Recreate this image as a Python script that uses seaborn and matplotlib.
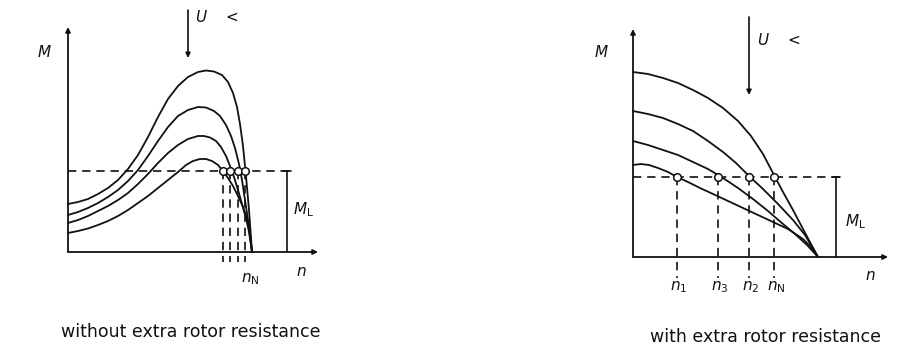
import numpy as np
import pandas as pd
import matplotlib
matplotlib.use("Agg")
import matplotlib.pyplot as plt
import seaborn as sns

sns.set_theme(style="white")
plt.rcParams["font.family"] = ["DejaVu Sans"]
plt.rcParams["mathtext.fontset"] = "dejavusans"

INK = "#111111"

# ---- torque-speed curves, arbitrary units (n = speed, M = torque) ----
# without extra rotor resistance: supply voltage lowered from top curve to bottom curve
left_curves = {
    "U1": ([0, 10, 20, 30, 40, 50, 60, 70, 80, 90, 100, 110, 120, 130, 138, 146, 154, 160, 165, 169, 172, 175, 178, 181, 184],
           [48, 50, 53, 58, 64, 72, 83, 97, 115, 135, 153, 166, 175, 180, 181.5, 180.5, 177, 170, 159, 145, 128, 106, 76, 42, 0]),
    "U2": ([0, 10, 20, 30, 40, 50, 60, 70, 80, 90, 100, 110, 120, 130, 138, 146, 152, 158, 163, 167, 171, 174, 177, 180, 184],
           [37, 40, 44, 49, 55, 62, 71, 82, 96, 111, 125, 136, 142, 145, 144.5, 141, 136, 127, 116, 104, 88, 72, 52, 32, 0]),
    "U3": ([0, 10, 20, 30, 40, 50, 60, 70, 80, 90, 100, 110, 120, 130, 136, 142, 148, 153, 158, 162, 166, 170, 174, 178, 181, 184],
           [29, 32, 36, 41, 46, 52, 59, 68, 78, 89, 99, 107, 113, 116, 116, 114.5, 111, 105, 96, 86, 75, 62, 48, 34, 20, 0]),
    "U4": ([0, 10, 20, 30, 40, 50, 60, 70, 80, 90, 100, 110, 118, 125, 132, 138, 144, 150, 155, 160, 165, 170, 175, 179, 182, 184],
           [19, 21, 23.5, 27, 31, 36, 42, 49, 56, 64, 72, 80, 87, 91, 93, 93, 91, 87, 81, 74, 66, 56, 45, 33, 20, 0]),
}
left_load = 81
left_op_n = [155, 162, 170, 177]

# with extra rotor resistance
right_curves = {
    "U1": ([0, 15, 30, 45, 60, 75, 90, 105, 118, 130, 141, 150, 160, 170, 178, 185],
           [185, 183, 179, 174, 167, 159, 149, 136, 121, 103, 82, 65, 47, 28, 13, 0]),
    "U2": ([0, 15, 30, 45, 60, 75, 90, 103, 116, 130, 145, 160, 172, 185],
           [146, 143, 139, 133, 126, 116, 105, 94, 81, 68, 53, 37, 22, 0]),
    "U3": ([0, 15, 30, 45, 60, 75, 90, 105, 120, 135, 150, 162, 174, 185],
           [116, 112, 107, 102, 95, 88, 79, 69, 58, 46, 33, 23, 12, 0]),
    "U4": ([0, 8, 16, 25, 35, 44, 55, 67, 80, 95, 110, 125, 140, 155, 170, 178, 185],
           [92, 93, 92, 89, 85, 80, 75, 69, 63, 56, 49, 42, 35, 28, 18, 10, 0]),
}
right_load = 80
right_op_n = [44, 85, 116, 141]
right_op_labels = [r"$n_1$", r"$n_3$", r"$n_2$", r"$n_\mathrm{N}$"]

captions = ["without extra rotor resistance", "with extra rotor resistance"]

fig = plt.figure(figsize=(9.02, 3.58), dpi=100)
fig.patch.set_facecolor("white")
axL = fig.add_axes([0.0, 0.0, 0.5, 1.0])
axR = fig.add_axes([0.5, 0.0, 0.5, 1.0])
axL.set_xlim(-68, 383)
axL.set_ylim(-106, 252)
axR.set_xlim(-182, 269)
axR.set_ylim(-101, 257)
for ax in (axL, axR):
    ax.set_axis_off()

dash = (0, (5, 3.5))


def draw_panel(ax, curves, load, op_n, x_end, y_top, dash_end, bar_x, drop_to):
    # coordinate axes with arrow heads
    ax.annotate("", xy=(0, y_top), xytext=(0, 0),
                arrowprops=dict(arrowstyle="-|>", color=INK, lw=1.3,
                                mutation_scale=7, shrinkA=0, shrinkB=0))
    ax.annotate("", xy=(x_end, 0), xytext=(0, 0),
                arrowprops=dict(arrowstyle="-|>", color=INK, lw=1.3,
                                mutation_scale=7, shrinkA=0, shrinkB=0))
    for name, (n, m) in curves.items():
        df = pd.DataFrame({"n": n, "M": m})
        sns.lineplot(data=df, x="n", y="M", ax=ax, color=INK, lw=1.3,
                     sort=False, estimator=None)
    # load torque line
    ax.plot([0, dash_end], [load, load], color=INK, lw=1.2, ls=dash)
    # operating points and their speeds
    for x in op_n:
        ax.plot([x, x], [load, drop_to], color=INK, lw=1.2, ls=dash)
    ax.scatter(op_n, [load] * len(op_n), s=30, facecolor="white",
               edgecolor=INK, linewidth=1.1, zorder=5)
    # M_L dimension bar
    ax.plot([bar_x, bar_x], [0, load], color=INK, lw=1.2)
    ax.plot([bar_x - 4, bar_x + 4], [load, load], color=INK, lw=1.2)


draw_panel(axL, left_curves, left_load, left_op_n, 250, 225, 224, 219, -10)
draw_panel(axR, right_curves, right_load, right_op_n, 255, 228, 210, 203, -21)

# voltage-reduction arrows
axL.annotate("", xy=(120, 194), xytext=(120, 242),
             arrowprops=dict(arrowstyle="-|>", color=INK, lw=1.2,
                             mutation_scale=7, shrinkA=0, shrinkB=0))
axR.annotate("", xy=(116, 162), xytext=(116, 240),
             arrowprops=dict(arrowstyle="-|>", color=INK, lw=1.2,
                             mutation_scale=7, shrinkA=0, shrinkB=0))

fs = 11
# left labels
axL.text(-24, 200, r"$M$", fontsize=fs, ha="center", va="center", color=INK)
axL.text(133, 235, r"$U$", fontsize=fs, ha="center", va="center", color=INK)
axL.text(164, 235, "<", fontsize=fs, ha="center", va="center", color=INK)
axL.text(225, 42, r"$M_\mathrm{L}$", fontsize=fs, ha="left", va="center", color=INK)
axL.text(233, -20, r"$n$", fontsize=fs, ha="center", va="center", color=INK)
axL.text(182, -27, r"$n_\mathrm{N}$", fontsize=fs, ha="center", va="center", color=INK)

# right labels
axR.text(-32, 205, r"$M$", fontsize=fs, ha="center", va="center", color=INK)
axR.text(130, 217, r"$U$", fontsize=fs, ha="center", va="center", color=INK)
axR.text(161, 217, "<", fontsize=fs, ha="center", va="center", color=INK)
axR.text(212, 35, r"$M_\mathrm{L}$", fontsize=fs, ha="left", va="center", color=INK)
axR.text(237, -18, r"$n$", fontsize=fs, ha="center", va="center", color=INK)
for x, lab in zip(right_op_n, right_op_labels):
    axR.text(x + 2, -30, lab, fontsize=fs, ha="center", va="center", color=INK)

fig.text(191 / 902, 1 - 332 / 358, captions[0], fontsize=12.5, ha="center",
         va="center", color=INK)
fig.text(765 / 902, 1 - 337 / 358, captions[1], fontsize=12.5, ha="center",
         va="center", color=INK)

fig.savefig("out.png", dpi=100, facecolor="white")
